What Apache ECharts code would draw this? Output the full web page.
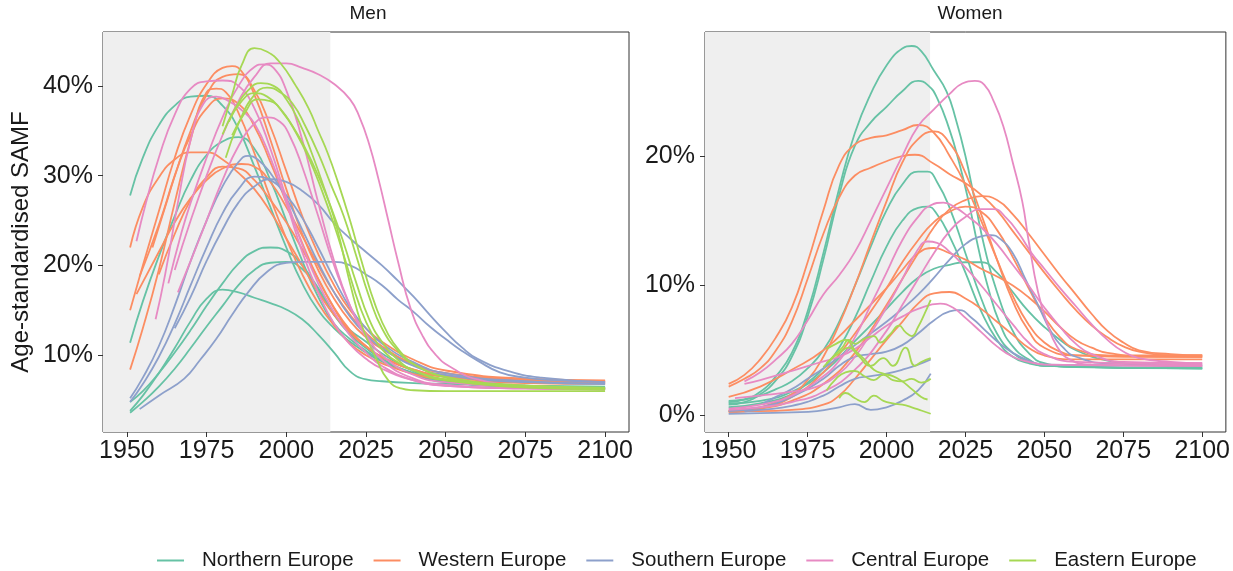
<!DOCTYPE html>
<html><head><meta charset="utf-8">
<script src="https://cdn.jsdelivr.net/npm/echarts@6/dist/echarts.min.js"></script>
<style>html,body{margin:0;padding:0;background:#fff}#c{width:1233px;height:571px}</style>
</head><body><div id="c"></div>
<script>
const regions = ['Northern Europe','Western Europe','Southern Europe','Central Europe','Eastern Europe'];
const regionColors = ['#66C2A5','#FC8D62','#8DA0CB','#E78AC3','#A6D854'];
const panelTitles = ['Men','Women'];
const yAxisTitle = 'Age-standardised SAMF';
const xTicks = [1950,1975,2000,2025,2050,2075,2100];
const menYTicks = [10,20,30,40];
const womenYTicks = [0,10,20];
const observedEnd = 2013.8;

// ---- Men (percent) ----
const menNorthern = [
 [[1951,27.8],[1955,32],[1960,35.6],[1965,37.8],[1970,38.8],[1975,38.9],[1980,37.8],[1985,35.2],[1990,31],[1995,26.5],[2000,22],[2005,18],[2010,15],[2015,13],[2020,11.5],[2025,10.3],[2030,9.3],[2040,7.9],[2050,7.1],[2060,6.7],[2075,6.5],[2100,6.4]],
 [[1951,11.4],[1955,16],[1960,21],[1965,25.5],[1970,29.5],[1975,32.3],[1980,33.8],[1985,34.3],[1990,33],[1995,29.5],[2000,25],[2005,20.5],[2010,16.5],[2015,13.5],[2020,11.8],[2025,10.5],[2030,9.4],[2040,8],[2050,7.2],[2075,6.6],[2100,6.4]],
 [[1951,4.8],[1955,6],[1960,8],[1965,10.3],[1970,12.8],[1975,15.5],[1980,18],[1985,20.2],[1990,21.6],[1995,22],[2000,21.6],[2005,20],[2010,17.3],[2015,14.5],[2020,12.8],[2025,11.5],[2030,10.2],[2040,8.2],[2050,7.1],[2075,6.5],[2100,6.3]],
 [[1951,3.6],[1955,4.8],[1960,6.5],[1965,8.5],[1970,10.8],[1975,13.2],[1980,15.5],[1985,17.8],[1990,19.5],[1995,20.3],[2000,20.4],[2005,19.6],[2010,17.5],[2015,14.5],[2020,12.3],[2025,10.8],[2030,9.6],[2040,7.9],[2050,7],[2075,6.4],[2100,6.2]],
 [[1951,3.8],[1955,5.5],[1960,8],[1965,10.8],[1970,13.8],[1975,16.3],[1980,17.3],[1985,17],[1990,16.4],[1995,15.8],[2000,15.1],[2005,14],[2010,12.3],[2015,10.3],[2020,8.2],[2025,7.3],[2030,7.1],[2040,6.9],[2050,6.8],[2075,6.6],[2100,6.5]]
];
const menWestern = [
 [[1951,22],[1955,26.5],[1960,29.8],[1965,31.8],[1970,32.6],[1975,32.6],[1980,31.8],[1985,30.3],[1990,28.5],[1995,26],[2000,23],[2005,20],[2010,17],[2015,14.5],[2020,12.5],[2025,11],[2030,9.8],[2040,8.4],[2050,7.7],[2075,7.2],[2100,7.1]],
 [[1951,15],[1955,20],[1960,26],[1965,32],[1970,36.8],[1975,40.2],[1980,42],[1983,42.2],[1986,41.6],[1990,39],[1995,34],[2000,28.5],[2005,23.5],[2010,19.5],[2015,16.3],[2020,13.8],[2025,12],[2030,10.7],[2040,9],[2050,8],[2075,7.3],[2100,7.1]],
 [[1951,8.4],[1955,13],[1960,19.5],[1965,27],[1970,34],[1975,39.3],[1978,39.7],[1981,39.3],[1985,37],[1990,32.5],[1995,27.5],[2000,23],[2005,19],[2010,15.8],[2015,13.3],[2020,11.3],[2025,10],[2030,9.1],[2040,7.9],[2050,7.3],[2075,6.9],[2100,6.8]],
 [[1954,18.8],[1960,24.5],[1965,30],[1970,35],[1975,39],[1980,41],[1985,41.3],[1990,39.5],[1995,35.5],[2000,30.5],[2005,25.5],[2010,21.3],[2015,17.8],[2020,15],[2025,13],[2030,11.5],[2040,9.5],[2050,8.3],[2075,7.4],[2100,7.2]],
 [[1953,16.8],[1960,21.5],[1965,24.8],[1970,27.5],[1975,29.5],[1980,30.8],[1986,31.3],[1990,31],[1995,29.3],[2000,26.5],[2005,23.3],[2010,20],[2015,17],[2020,14.5],[2025,12.5],[2030,11],[2040,9],[2050,8],[2075,7.2],[2100,7]],
 [[1958,22],[1962,26.5],[1966,31],[1970,34.5],[1975,37.5],[1980,38.6],[1985,38],[1990,35.5],[1995,31.5],[2000,27],[2005,22.5],[2010,18.5],[2015,15.3],[2020,12.8],[2025,11],[2030,9.8],[2040,8.4],[2050,7.6],[2075,7.1],[2100,7]],
 [[1960,19],[1965,23.5],[1970,27.3],[1975,29.8],[1980,31],[1985,30.8],[1990,29.5],[1995,27.3],[2000,24.8],[2005,21.8],[2010,18.5],[2015,15.2],[2020,12.6],[2025,11],[2030,9.8],[2040,8.3],[2050,7.6],[2075,7],[2100,6.9]]
];
const menSouthern = [
 [[1951,5.2],[1955,7.5],[1960,11],[1965,15.5],[1970,20.5],[1975,25],[1980,28.8],[1985,31.5],[1988,32.2],[1991,31.8],[1995,30.3],[2000,27.5],[2005,24],[2010,20.3],[2015,17],[2020,14.3],[2025,12.3],[2030,10.8],[2040,8.8],[2050,7.8],[2075,7],[2100,6.8]],
 [[1951,4.8],[1955,6.8],[1960,9.8],[1965,13.5],[1970,17.8],[1975,22],[1980,25.8],[1985,28.5],[1990,29.9],[1995,29.5],[2000,27.8],[2005,25.3],[2010,22],[2015,18.5],[2020,15.3],[2025,13],[2030,11.3],[2040,9.2],[2050,8],[2075,7.1],[2100,6.8]],
 [[1965,13],[1970,16.5],[1975,20.5],[1980,24],[1985,27],[1990,28.8],[1995,29.6],[2000,29.3],[2005,28.3],[2010,26.8],[2015,24.7],[2020,23],[2025,21.5],[2030,20],[2035,18.3],[2040,16.5],[2045,14.5],[2050,12.6],[2055,10.9],[2060,9.6],[2070,8.2],[2080,7.5],[2100,7]],
 [[1954,4],[1960,5.5],[1968,7.4],[1973,9.5],[1978,11.8],[1983,14.5],[1988,17],[1994,19.3],[2000,20.3],[2005,20.4],[2010,20.4],[2015,20.4],[2020,20],[2025,19],[2030,17.8],[2035,16.2],[2040,14.8],[2045,13.2],[2050,11.8],[2055,10.5],[2060,9.4],[2067,8.1],[2075,7.5],[2085,7.2],[2100,7]]
];
const menCentral = [
 [[1965,19.5],[1970,25],[1975,30],[1980,34.5],[1985,38.3],[1990,41],[1995,42.5],[2000,42.5],[2005,42],[2010,41.3],[2015,40.2],[2020,38.5],[2023,36.5],[2026,33.5],[2029,29.5],[2032,25],[2035,20.5],[2039,15.2],[2043,12],[2047,10],[2051,8.8],[2060,7.3],[2075,6.6],[2100,6.3]],
 [[1953,22.7],[1956,27],[1960,32],[1965,36.8],[1970,39.7],[1975,40.5],[1980,40.6],[1985,40],[1990,37.5],[1995,33],[2000,27.5],[2005,22.3],[2010,18],[2015,14.8],[2020,12.2],[2025,10.3],[2030,8.8],[2040,7.2],[2050,6.6],[2075,6.3],[2100,6.2]],
 [[1963,18],[1967,23.5],[1970,27],[1975,32],[1980,36.5],[1985,40],[1990,42.1],[1993,42.4],[1996,42],[2000,39.5],[2005,34],[2010,27],[2015,20.5],[2020,15.5],[2025,12],[2030,9.5],[2040,7.4],[2050,6.7],[2075,6.3],[2100,6.2]],
 [[1966,17],[1970,20.5],[1975,25],[1980,29.5],[1985,33.3],[1990,35.8],[1994,36.5],[1998,36],[2001,34.5],[2005,31],[2010,25.5],[2015,20],[2020,15.5],[2025,12.3],[2030,10],[2040,7.8],[2050,7],[2075,6.5],[2100,6.3]],
 [[1959,14],[1962,19],[1966,27],[1970,34],[1974,38],[1978,38.8],[1982,38.3],[1986,37.3],[1990,35.8],[1995,32],[2000,27],[2005,21.5],[2010,17],[2015,13.5],[2020,11.2],[2025,9.6],[2030,8.5],[2040,7.2],[2050,6.6],[2075,6.3],[2100,6.2]]
];
const menEastern = [
 [[1980,35.5],[1983,39],[1986,42.3],[1990,44.2],[1994,43.8],[1998,42.6],[2003,40],[2007,37.5],[2010,35],[2013,32.5],[2016,29.5],[2020,25],[2024,20],[2028,15.5],[2032,12.3],[2036,10.3],[2040,9],[2050,7.5],[2060,6.8],[2075,6.4],[2100,6.2]],
 [[1980,34.6],[1984,37.5],[1988,39.5],[1992,40.3],[1996,40],[2000,38.5],[2004,36],[2008,32.5],[2012,28.5],[2016,24],[2020,18],[2024,13],[2028,9.8],[2032,7.2],[2036,6.3],[2040,6.1],[2050,6],[2100,6]],
 [[1981,32],[1985,35.8],[1990,39],[1994,39.8],[1998,39.3],[2002,38],[2006,35.5],[2010,32.5],[2014,29],[2018,25.5],[2022,21],[2026,16.5],[2030,13],[2035,10.5],[2040,9],[2050,7.6],[2075,6.6],[2100,6.3]],
 [[1982,36],[1986,38.3],[1990,39.2],[1994,38.8],[1998,37.5],[2002,35.5],[2006,33],[2010,30],[2014,26.5],[2018,22.5],[2022,18],[2026,14],[2030,11.5],[2035,9.5],[2040,8.3],[2050,7.2],[2075,6.5],[2100,6.2]],
 [[1983,34.5],[1987,37],[1991,38.5],[1995,38.3],[1999,37],[2003,34.8],[2007,32],[2011,28.5],[2015,24.5],[2019,20],[2023,15.5],[2027,12.3],[2031,10.3],[2036,9],[2040,8.3],[2050,7.3],[2075,6.6],[2100,6.4]]
];

// ---- Women (percent) ----
const womenNorthern = [
 [[1950,1.0],[1955,1.2],[1960,1.8],[1965,3],[1970,4.8],[1975,8],[1980,12.5],[1985,17.5],[1990,21.8],[1995,24.8],[2000,27],[2005,28.3],[2008,28.5],[2011,28.1],[2015,26.6],[2019,25],[2022,22.8],[2025,20],[2028,16.5],[2031,13],[2035,9.5],[2040,6.5],[2045,4.8],[2050,4],[2060,3.7],[2100,3.6]],
 [[1950,0.8],[1955,1],[1960,1.6],[1965,2.7],[1970,4.5],[1975,7.6],[1980,12],[1985,17],[1990,20.8],[1995,22.6],[2000,23.8],[2005,25],[2010,25.8],[2013,25.5],[2016,24.5],[2020,22],[2023,19.5],[2026,16.5],[2029,13],[2032,10],[2036,7],[2040,5.3],[2045,4.3],[2050,3.8],[2100,3.6]],
 [[1950,1.1],[1955,1.2],[1960,1.5],[1965,2],[1970,2.6],[1975,3.6],[1980,5],[1985,7.2],[1990,10],[1995,13],[2000,15.8],[2005,17.8],[2010,18.8],[2013,18.8],[2016,18],[2020,16],[2025,12.5],[2030,9],[2035,6.3],[2040,4.8],[2045,4.1],[2050,3.8],[2100,3.6]],
 [[1950,0.6],[1960,0.9],[1970,1.6],[1975,2.5],[1980,3.6],[1985,5.2],[1990,7.5],[1995,10.3],[2000,13],[2005,15],[2010,16],[2013,16.1],[2016,15.5],[2020,13.8],[2025,11],[2030,8],[2035,5.8],[2040,4.5],[2045,4],[2050,3.8],[2100,3.6]],
 [[1950,0.9],[1960,1.1],[1970,1.8],[1980,3.3],[1990,5.7],[2000,8.2],[2005,9.5],[2010,10.6],[2015,11.3],[2020,11.6],[2025,11.8],[2030,11.8],[2035,11],[2040,9.5],[2045,8],[2050,6.8],[2055,5.8],[2060,5],[2070,4.2],[2080,3.9],[2100,3.7]]
];
const womenWestern = [
 [[1950,2.4],[1955,3.1],[1960,4.3],[1965,6],[1970,8.3],[1975,11.8],[1980,15.8],[1985,19.3],[1990,20.9],[1995,21.4],[2000,21.6],[2005,22],[2010,22.4],[2015,21.8],[2020,20],[2025,17.8],[2030,15],[2035,12],[2040,9.2],[2045,7],[2050,5.6],[2055,4.9],[2060,4.6],[2075,4.5],[2100,4.5]],
 [[1950,2.2],[1955,2.8],[1960,3.6],[1965,5],[1970,7.2],[1975,10.5],[1980,14],[1985,16.8],[1990,18.5],[1995,19.1],[2000,19.6],[2005,20],[2009,20.1],[2015,19.4],[2020,18.6],[2025,17.9],[2030,17],[2035,15.8],[2040,14.2],[2045,12.6],[2050,11],[2055,9.5],[2060,8.1],[2065,6.9],[2070,6],[2075,5.3],[2080,4.9],[2090,4.6],[2100,4.6]],
 [[1950,0.3],[1960,0.6],[1965,1],[1970,1.6],[1975,2.7],[1980,4.5],[1985,7],[1990,10],[1995,13.3],[2000,16.5],[2005,19.5],[2010,21.3],[2015,21.9],[2020,21],[2025,18.7],[2030,15.5],[2035,12],[2040,8.8],[2045,6.5],[2050,5.2],[2060,4.6],[2100,4.5]],
 [[1950,0.3],[1960,0.5],[1970,1.1],[1980,2.4],[1990,4.8],[2000,8.5],[2005,10.5],[2010,12.5],[2015,14.5],[2020,15.9],[2025,16.6],[2030,16.9],[2035,16.6],[2040,15.5],[2045,14],[2050,12.4],[2055,10.8],[2060,9.3],[2065,7.8],[2070,6.5],[2075,5.6],[2080,5],[2090,4.7],[2100,4.6]],
 [[1950,0.2],[1960,0.5],[1970,1.4],[1980,3.3],[1990,6.3],[2000,9.8],[2005,11.8],[2010,13.5],[2015,14.9],[2020,15.7],[2025,16.1],[2030,15.7],[2035,14.3],[2040,12.2],[2045,9.8],[2050,7.6],[2055,6],[2060,5.1],[2070,4.6],[2100,4.5]],
 [[1950,1.4],[1960,2.2],[1970,3.5],[1980,5],[1990,7.3],[2000,9.8],[2005,11.2],[2010,12.5],[2015,12.9],[2020,12.5],[2025,12],[2030,11.3],[2035,10.7],[2040,10],[2045,9.1],[2050,8],[2055,6.8],[2060,5.8],[2065,5.2],[2070,4.8],[2080,4.6],[2100,4.6]],
 [[1950,0.3],[1960,0.3],[1970,0.4],[1980,0.8],[1985,1.5],[1990,2.8],[1995,4.3],[2000,5.8],[2005,7.2],[2010,8.6],[2015,9.4],[2020,9.5],[2025,9],[2030,8.2],[2035,7.2],[2040,6.2],[2045,5.2],[2050,4.6],[2060,4.3],[2100,4.3]]
];
const womenSouthern = [
 [[1961,0.9],[1965,1.4],[1970,2],[1975,2.8],[1980,3.6],[1985,4.5],[1990,5.4],[1995,6.3],[2000,7.2],[2005,8.2],[2010,9.3],[2015,10.6],[2020,12],[2025,13.2],[2030,13.8],[2033,13.9],[2036,13.6],[2040,12.5],[2044,10.5],[2048,8.5],[2052,6.5],[2056,5.2],[2060,4.5],[2070,4],[2100,3.9]],
 [[1950,0.3],[1960,0.6],[1970,1.4],[1980,2.8],[1985,3.8],[1990,4.5],[1995,4.7],[2000,4.9],[2005,5.4],[2010,6.3],[2015,7.3],[2020,8],[2023,8.1],[2027,7.5],[2031,6.6],[2035,5.7],[2040,4.8],[2045,4.2],[2050,3.9],[2100,3.8]],
 [[1950,0.1],[1960,0.15],[1970,0.2],[1978,0.3],[1985,0.6],[1990,0.85],[1995,0.4],[2000,0.6],[2005,1.1],[2010,1.9],[2014,3.2]],
 [[1955,0.3],[1960,0.4],[1970,0.7],[1980,1.5],[1985,2.2],[1990,2.8],[1995,3],[2000,3.2],[2005,3.5],[2010,3.9],[2014,4.3]]
];
const womenCentral = [
 [[1955,2.6],[1960,3.3],[1965,4.3],[1970,5.5],[1975,7.3],[1980,9.3],[1985,10.8],[1990,12.6],[1995,15],[2000,17.5],[2005,20],[2010,22.3],[2015,23.6],[2020,24.8],[2024,25.6],[2028,25.8],[2031,25.5],[2034,24.2],[2037,22.3],[2040,19.5],[2043,16.5],[2045,13.5],[2048,9.5],[2051,7],[2054,5.3],[2058,4.3],[2065,3.9],[2100,3.8]],
 [[1950,0.5],[1960,0.8],[1970,1.5],[1980,3],[1985,4.2],[1990,6],[1995,8.5],[2000,11],[2005,13.5],[2010,15.3],[2014,16.2],[2018,16.4],[2022,16],[2026,15.3],[2030,14.5],[2035,13.2],[2040,11.6],[2045,10],[2050,8.3],[2055,6.8],[2060,5.5],[2065,4.7],[2075,4.1],[2100,4]],
 [[1950,0.4],[1960,0.6],[1970,1],[1980,1.8],[1990,3.5],[2000,6.5],[2005,8.5],[2010,10.5],[2015,12.5],[2020,14.2],[2025,15.3],[2030,15.9],[2034,15.9],[2038,15.2],[2042,14],[2046,12.5],[2050,11.3],[2055,9.8],[2060,8.4],[2065,7],[2070,5.8],[2075,4.9],[2080,4.4],[2090,4.1],[2100,4]],
 [[1952,1.3],[1960,1.5],[1970,1.8],[1978,2.2],[1985,3.2],[1990,4.5],[1995,6.3],[2000,8.3],[2005,10.5],[2010,12.8],[2013,13.4],[2016,13.3],[2020,12.6],[2025,11.4],[2030,10],[2035,8.5],[2040,7],[2045,5.6],[2050,4.7],[2060,4.1],[2100,3.9]],
 [[1955,2.4],[1960,2.7],[1970,3.4],[1978,4],[1985,4.5],[1990,5.1],[1995,6],[2000,6.9],[2005,7.6],[2010,8.2],[2017,8.6],[2021,8.3],[2025,7.5],[2030,6.4],[2035,5.3],[2040,4.5],[2045,4.1],[2050,3.9],[2100,3.8]]
];
const womenEastern = [
 [[1980,3.7],[1983,4.5],[1986,5.2],[1988,5.8],[1990,5.5],[1993,5.9],[1996,6.1],[1998,5.6],[2001,6.2],[2004,6.9],[2006,6.4],[2008,6.1],[2010,6.8],[2012,7.8],[2014,8.9]],
 [[1981,4],[1985,4.8],[1988,5.2],[1991,4.6],[1995,3.8],[1999,4.4],[2002,3.8],[2006,5.2],[2009,3.8],[2011,4.1],[2014,4.4]],
 [[1981,1.9],[1984,2.8],[1987,3.3],[1990,3.4],[1993,3],[1996,2.7],[1999,3.1],[2002,2.7],[2005,2.6],[2008,2.8],[2011,2.5],[2014,2.8]],
 [[1985,1.3],[1987,1.7],[1990,1.3],[1993,1.0],[1996,1.5],[1999,1.1],[2002,0.9],[2005,0.8],[2008,0.6],[2011,0.35],[2014,0.1]],
 [[1981,5.1],[1984,5.5],[1987,5.8],[1990,5],[1993,4.3],[1996,3.5],[1999,3.2],[2002,3],[2005,2.6],[2008,2],[2011,1.4],[2013,1.2]]
];

const FONT = '"Liberation Sans", Arial, Helvetica, sans-serif';
const TXT = '#1a1a1a';
const menGroups = [menNorthern, menWestern, menSouthern, menCentral, menEastern];
const womenGroups = [womenNorthern, womenWestern, womenSouthern, womenCentral, womenEastern];
const xMin = 1942.5, xMax = 2107.5;
const yRanges = [[1.45, 46.0], [-1.31, 29.58]];
const yTicks = [menYTicks, womenYTicks];

const series = [];
[menGroups, womenGroups].forEach((groups, p) => {
  series.push({
    type: 'line', xAxisIndex: p, yAxisIndex: p, data: [], silent: true, z: -1,
    markArea: { silent: true, itemStyle: { color: '#EFEFEF' },
      data: [[{ xAxis: xMin }, { xAxis: observedEnd }]] }
  });
  groups.forEach((lines, r) => {
    lines.forEach(line => {
      series.push({
        type: 'line', name: regions[r], xAxisIndex: p, yAxisIndex: p,
        data: line, showSymbol: false, symbol: 'none',
        smooth: 0.5,
        color: regionColors[r],
        lineStyle: { width: 1.8, color: regionColors[r] },
        emphasis: { disabled: true }, z: 2
      });
    });
  });
});

const grids = [
  { left: 103, top: 32, width: 526, height: 400 },
  { left: 705, top: 32, width: 526, height: 400 }
].map(g => Object.assign(g, { show: true, borderColor: '#333', borderWidth: 1, backgroundColor: 'transparent', containLabel: false }));

const xAxes = [0, 1].map(i => ({
  gridIndex: i, type: 'value', min: xMin, max: xMax,
  axisLine: { show: false, onZero: false }, splitLine: { show: false },
  axisTick: { show: true, customValues: xTicks, length: 5, lineStyle: { color: '#333', width: 1 } },
  axisLabel: { customValues: xTicks, fontSize: 25, color: TXT, margin: 7, fontFamily: FONT, formatter: v => String(v) }
}));
const yAxes = [0, 1].map(i => ({
  gridIndex: i, type: 'value', min: yRanges[i][0], max: yRanges[i][1],
  axisLine: { show: false, onZero: false }, splitLine: { show: false },
  axisTick: { show: true, customValues: yTicks[i], length: 5, lineStyle: { color: '#333', width: 1 } },
  axisLabel: { customValues: yTicks[i], fontSize: 25, color: TXT, margin: 10, fontFamily: FONT, formatter: v => v + '%' },
  name: i === 0 ? yAxisTitle : '', nameLocation: 'middle', nameGap: 70, nameRotate: 90,
  nameTextStyle: { fontSize: 24, color: TXT, fontFamily: FONT, padding: [0, 20, 0, 0] }
}));

const chart = echarts.init(document.getElementById('c'), null, { renderer: 'canvas' });
chart.setOption({
  animation: false,
  backgroundColor: '#ffffff',
  title: [0, 1].map(i => ({
    text: panelTitles[i], left: grids[i].left + grids[i].width / 2 - 3, textAlign: 'center', top: -1,
    textStyle: { fontSize: 19, fontWeight: 'normal', color: TXT, fontFamily: FONT }
  })),
  legend: {
    data: regions, left: 152, top: 545, icon: 'rect', itemWidth: 27, itemHeight: 2, itemGap: 20,
    textStyle: { fontSize: 20.5, color: TXT, fontFamily: FONT, padding: [0, 0, 0, 13] },
    selectedMode: false
  },
  grid: grids,
  xAxis: xAxes,
  yAxis: yAxes,
  series: series
});
</script>
</body></html>
